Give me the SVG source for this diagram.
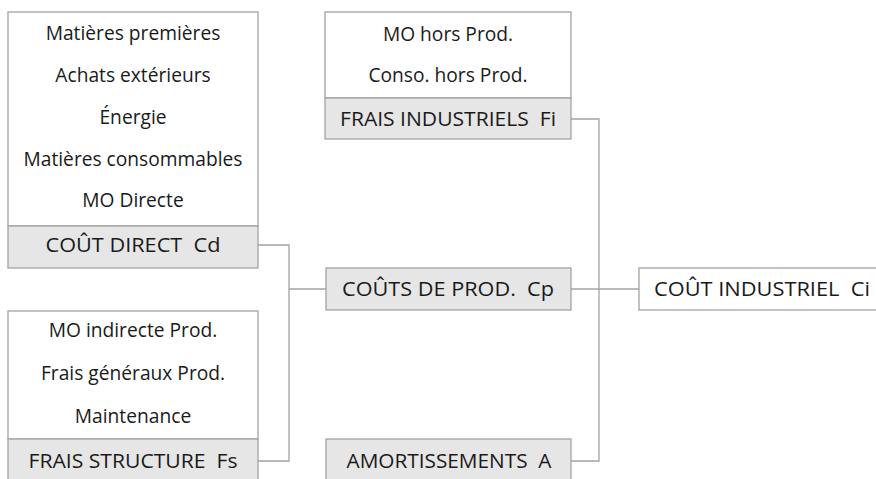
<svg xmlns="http://www.w3.org/2000/svg" width="876" height="479" viewBox="0 0 876 479">
<style>
.box{fill:#ffffff;stroke:#a3a3a3;stroke-width:1.3}
.hdr{fill:#e6e6e6;stroke:#a3a3a3;stroke-width:1.3}
.t{font-family:"Open Sans",Lato,sans-serif;font-size:19.2px;fill:#1a1a1a;text-anchor:middle;white-space:pre}
.c{fill:none;stroke:#a3a3a3;stroke-width:1.3}
</style>
<rect width="876" height="479" fill="#ffffff"/>
<g id="cout-direct">
<rect class="box" x="8" y="12" width="250" height="214"/>
<rect class="hdr" x="8" y="226" width="250" height="42"/>
<text class="t" x="133" y="40">Matières premières</text>
<text class="t" x="133" y="82">Achats extérieurs</text>
<text class="t" x="133" y="124">Énergie</text>
<text class="t" x="133" y="166">Matières consommables</text>
<text class="t" x="133" y="207">MO Directe</text>
<text class="t" x="133" y="252" xml:space="preserve" textLength="175" lengthAdjust="spacingAndGlyphs">COÛT DIRECT  Cd</text>
</g>
<g id="frais-industriels">
<rect class="box" x="325" y="12" width="246" height="86"/>
<rect class="hdr" x="325" y="98" width="246" height="41"/>
<text class="t" x="448" y="41">MO hors Prod.</text>
<text class="t" x="448" y="82">Conso. hors Prod.</text>
<text class="t" x="448" y="126" xml:space="preserve" textLength="216" lengthAdjust="spacingAndGlyphs">FRAIS INDUSTRIELS  Fi</text>
</g>
<g id="frais-structure">
<rect class="box" x="8" y="311" width="250" height="128"/>
<rect class="hdr" x="8" y="439" width="250" height="44"/>
<text class="t" x="133" y="337">MO indirecte Prod.</text>
<text class="t" x="133" y="380">Frais généraux Prod.</text>
<text class="t" x="133" y="423">Maintenance</text>
<text class="t" x="133" y="468" xml:space="preserve" textLength="209" lengthAdjust="spacingAndGlyphs">FRAIS STRUCTURE  Fs</text>
</g>
<g id="couts-prod">
<rect class="hdr" x="326" y="268" width="245" height="42"/>
<text class="t" x="448" y="296" xml:space="preserve" textLength="212" lengthAdjust="spacingAndGlyphs">COÛTS DE PROD.  Cp</text>
</g>
<g id="amortissements">
<rect class="hdr" x="326" y="439" width="245" height="44"/>
<text class="t" x="449" y="468" xml:space="preserve" textLength="205" lengthAdjust="spacingAndGlyphs">AMORTISSEMENTS  A</text>
</g>
<g id="cout-industriel">
<rect class="box" x="639" y="268" width="240" height="42"/>
<text class="t" x="762" y="296" xml:space="preserve" textLength="216" lengthAdjust="spacingAndGlyphs">COÛT INDUSTRIEL  Ci</text>
</g>
<g id="connectors">
<polyline class="c" points="258,245 289,245 289,461 258,461"/>
<line class="c" x1="289" y1="289" x2="326" y2="289"/>
<polyline class="c" points="571,119 599,119 599,461 571,461"/>
<line class="c" x1="571" y1="289" x2="639" y2="289"/>
</g>
</svg>
